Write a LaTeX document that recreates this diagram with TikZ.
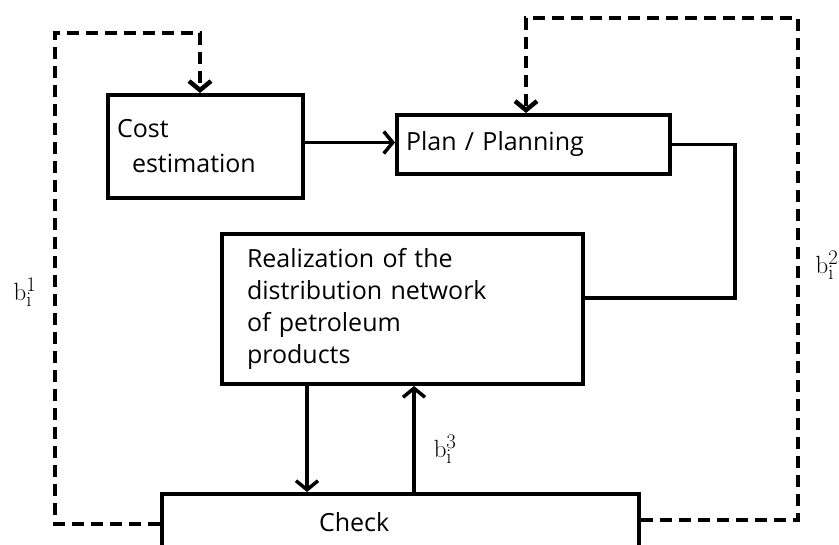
\documentclass[tikz,border=0pt]{standalone}
\usepackage[no-math]{fontspec}
\setmainfont{Open Sans}
\usetikzlibrary{arrows.meta,positioning}

\tikzset{
  blk/.style={draw, line width=4pt, anchor=north west, align=left,
    inner xsep=9pt, inner ysep=0pt, font=\fontsize{25}{32}\selectfont},
  arr/.style={line width=3.5pt, -{Straight Barb[length=9pt,width=22pt]}},
  fb/.style={line width=4.5pt, dash pattern=on 12pt off 7pt,
    -{Straight Barb[length=9pt,width=22pt]}},
  lbl/.style={font=\fontsize{32}{32}\selectfont}
}

\begin{document}
\begin{tikzpicture}[x=1pt,y=-1pt]
  \useasboundingbox (0,0) rectangle (839,545);

  \node[blk, minimum width=195pt, minimum height=103pt, text width=177pt,
    font=\fontsize{25}{35}\selectfont] (cost) at (106,93)
    {Cost\\\hspace*{15pt}estimation};
  \node[blk, minimum width=273pt, minimum height=59pt, text width=255pt]
    (plan) at (395,113) {Plan / Planning};
  \node[blk, minimum width=361pt, minimum height=150pt, text width=311pt,
    inner xsep=25pt] (real) at (220,232)
    {Realization of the\\distribution network\\of petroleum\\products};
  \node[blk, minimum width=477pt, minimum height=56pt, text width=459pt]
    (check) at (160,492) {\hspace*{148pt}Check};

  \coordinate (dn) at ([xshift=87pt]real.south west);
  \coordinate (up) at ([xshift=254pt]check.north west);
  \coordinate (fb1) at (55,33);
  \coordinate (fb2) at (798,18);

  \draw[arr] ([yshift=4pt]cost.east) -- ([yshift=4pt]cost.east -| plan.west);
  \draw[line width=3.5pt] (plan.east) -- ++(63,0) |- ([yshift=11pt]real.east);
  \draw[arr] (dn) -- (dn |- check.north);
  \draw[arr] (up) -- (up |- real.south)
    node[lbl, pos=0.4, right=18pt, inner sep=0pt] (b3)
    {$\mathrm{b}_{\mathrm{i}}^{3}$};

  % feedback loops
  \draw[fb] ([yshift=-2pt]check.west) -| (fb1) -| ([xshift=-5.5pt]cost.north);
  \draw[fb] ([yshift=2pt]check.east) -| (fb2) -| ([xshift=-7.5pt]plan.north);

  \foreach \n/\x/\y in {1/25/292, 2/827/265}
    \node[lbl] (b\n) at (\x,\y) {$\mathrm{b}_{\mathrm{i}}^{\n}$};
\end{tikzpicture}
\end{document}
